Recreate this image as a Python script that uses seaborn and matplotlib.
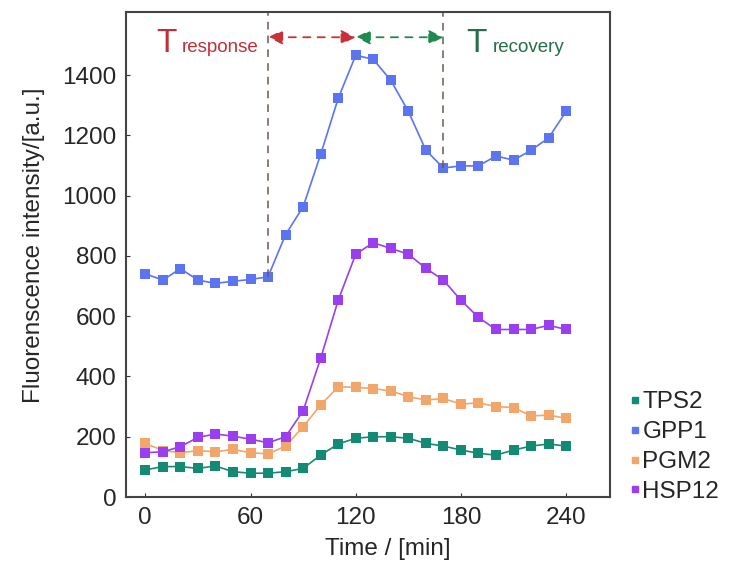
import numpy as np
import pandas as pd
import matplotlib
matplotlib.use("Agg")
import matplotlib.pyplot as plt
import seaborn as sns

# time points (min)
time = list(range(0, 250, 10))

# fluorescence intensity per gene
tps2 = [90, 101, 101, 95, 103, 84, 79, 79, 84, 95, 139, 176, 195, 200, 200, 195,
        178, 169, 156, 145, 139, 156, 169, 176, 169]
gpp1 = [741, 720, 758, 720, 709, 716, 722, 731, 871, 963, 1137, 1323, 1466, 1453,
        1383, 1280, 1151, 1092, 1099, 1099, 1132, 1118, 1151, 1192, 1280]
pgm2 = [178, 154, 147, 154, 150, 158, 147, 143, 169, 233, 305, 366, 364, 360, 352,
        333, 322, 327, 308, 313, 300, 297, 269, 272, 261]
hsp12 = [147, 150, 167, 198, 209, 202, 192, 180, 200, 286, 460, 653, 806, 844, 825,
         806, 759, 720, 653, 596, 556, 556, 556, 570, 556]

genes = ["TPS2", "GPP1", "PGM2", "HSP12"]
colors = ["#138a74", "#5b74f0", "#f2a66a", "#9a3ef0"]

# response / recovery window
t_start, t_peak, t_end = 70, 120, 170

df = pd.DataFrame({
    "time": time * 4,
    "value": tps2 + gpp1 + pgm2 + hsp12,
    "gene": [g for g in genes for _ in time],
})

sns.set_style("ticks")
plt.rcParams["font.family"] = ["Liberation Sans", "DejaVu Sans"]

fig = plt.figure(figsize=(7.3, 5.66), dpi=100)
ax = fig.add_axes([0.1726, 0.1219, 0.663, 0.857])

sns.lineplot(data=df, x="time", y="value", hue="gene", hue_order=genes,
             palette=colors, marker="s", markersize=7, markeredgewidth=0,
             linewidth=1.2, ax=ax, legend=False)

ax.set_xlim(-11, 265)
ax.set_ylim(0, 1610)
ax.set_xticks([0, 60, 120, 180, 240])
ax.set_yticks(range(0, 1401, 200))
ax.tick_params(direction="in", labelsize=17.5, length=3, color="#333333", pad=7)
for s in ax.spines.values():
    s.set_visible(True)
    s.set_linewidth(1.5)
    s.set_color("#444444")

ax.set_xlabel("Time / [min]", fontsize=17.5)
ax.xaxis.set_label_coords(0.54, -0.085)
ax.set_ylabel("Fluorenscence intensity/[a.u.]", fontsize=17.5)
ax.yaxis.set_label_coords(-0.168, 0.52)

# dashed markers for response start / recovery end
ax.vlines([t_start, t_end], [gpp1[time.index(t_start)], gpp1[time.index(t_end)]],
          1610, colors="#6b5a50", linestyles=(0, (5, 4)), linewidth=1.1)

# double arrows
y_arr = 1526
ax.annotate("", xy=(t_start, y_arr), xytext=(t_peak, y_arr),
            arrowprops=dict(arrowstyle="<|-|>", color="#c8303a", ls=(0, (4, 4)),
                            lw=1.3, mutation_scale=22, shrinkA=0, shrinkB=0))
ax.annotate("", xy=(t_peak, y_arr), xytext=(t_end, y_arr),
            arrowprops=dict(arrowstyle="<|-|>", color="#1e8a50", ls=(0, (4, 4)),
                            lw=1.3, mutation_scale=22, shrinkA=0, shrinkB=0))

ax.text(6, 1478, "T", color="#c0303a", fontsize=24, va="baseline")
ax.text(21, 1478, "response", color="#c0303a", fontsize=13.5, va="baseline")
ax.text(183, 1478, "T", color="#246e48", fontsize=24, va="baseline")
ax.text(198, 1478, "recovery", color="#246e48", fontsize=13.5, va="baseline")

handles = [plt.Line2D([], [], marker="s", ls="", color=c, markersize=5) for c in colors]
fig.legend(handles, genes, loc="center left", bbox_to_anchor=(0.835, 0.21),
           frameon=False, fontsize=17.5, handlelength=0.3, handletextpad=0.15,
           labelspacing=0.32)

fig.savefig("out.png", dpi=100)
